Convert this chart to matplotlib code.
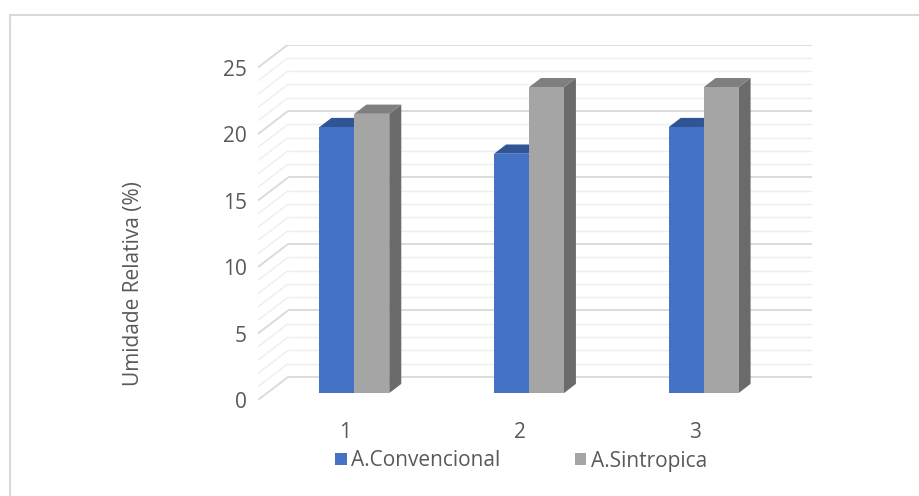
import matplotlib

matplotlib.use("Agg")
import matplotlib.pyplot as plt
from matplotlib.patches import Polygon, Patch
from matplotlib.lines import Line2D

categories = [1, 2, 3]
series_names = ["A.Convencional", "A.Sintropica"]
convencional = [20, 18, 20]
sintropica = [21, 23, 23]
y_ticks = [0, 5, 10, 15, 20, 25]

# face colours per series: front, top, side
face_colors = {
    "A.Convencional": ("#4472c4", "#2f5597", "#2b4f8c"),
    "A.Sintropica": ("#a5a5a5", "#7f7f7f", "#6b6b6b"),
}

# oblique "3D" projection: depth offset of the back wall in data units
WALL_DX = 0.172
WALL_DY = 1.73
BAR_D0 = 0.3   # front face depth (fraction of wall depth)
BAR_D1 = 0.7   # back face depth
BAR_W = 0.2
TEXT = "#595959"
FS = 15

plt.rcParams["font.family"] = ["Open Sans", "DejaVu Sans"]


def proj(x, v, d):
    return (x + d * WALL_DX, v + d * WALL_DY)


def draw_bar(ax, x0, x1, h, colors):
    front, top, side = colors
    f = [proj(x0, 0, BAR_D0), proj(x1, 0, BAR_D0), proj(x1, h, BAR_D0), proj(x0, h, BAR_D0)]
    t = [proj(x0, h, BAR_D0), proj(x1, h, BAR_D0), proj(x1, h, BAR_D1), proj(x0, h, BAR_D1)]
    s = [proj(x1, 0, BAR_D0), proj(x1, 0, BAR_D1), proj(x1, h, BAR_D1), proj(x1, h, BAR_D0)]
    for pts, c in ((s, side), (t, top), (f, front)):
        ax.add_patch(Polygon(pts, closed=True, facecolor=c, edgecolor="none", zorder=3))


fig = plt.figure(figsize=(9.2, 4.96), dpi=100)
ax = fig.add_axes([258 / 920, 96 / 496, 554 / 920, 355.5 / 496])
x_lo, x_hi = 0.5, 3.5
ax.set_xlim(x_lo, x_hi + WALL_DX)
ax.set_ylim(0, y_ticks[-1] + WALL_DY)

# walls: gridline every unit, darker at the major ticks
for v in range(0, y_ticks[-1] + 1):
    c = "#d9d9d9" if v % 5 == 0 else "#eeeeee"
    lw = 1.3 if v % 5 == 0 else 1.0
    a = proj(x_lo, v, 1)
    b = proj(x_hi, v, 1)
    ax.plot([a[0], b[0]], [a[1], b[1]], color=c, lw=lw, zorder=1, solid_capstyle="butt")
    ax.plot([x_lo, a[0]], [v, a[1]], color=c, lw=lw, zorder=1, solid_capstyle="butt")

for i, c in enumerate(categories):
    draw_bar(ax, c - BAR_W, c, convencional[i], face_colors["A.Convencional"])
    draw_bar(ax, c, c + BAR_W, sintropica[i], face_colors["A.Sintropica"])

for sp in ax.spines.values():
    sp.set_visible(False)
ax.set_yticks(y_ticks)
ax.set_yticklabels([str(t) for t in y_ticks])
ax.set_xticks(categories)
ax.set_xticklabels([str(c) for c in categories])
ax.tick_params(axis="y", length=0, pad=8, labelsize=FS, labelcolor=TEXT)
ax.tick_params(axis="x", length=0, pad=16, labelsize=FS, labelcolor=TEXT)

fig.text(134 / 920, 1 - 284 / 496, "Umidade Relativa (%)", rotation=90,
         ha="center", va="center", fontsize=FS, color=TEXT)

handles = [Patch(facecolor=face_colors[n][0], edgecolor="none") for n in series_names]
fig.legend(handles, series_names, loc="center", bbox_to_anchor=(521 / 920, 1 - 461 / 496),
           ncol=2, frameon=False, fontsize=FS, labelcolor=TEXT, handlelength=0.55,
           handleheight=0.55, handletextpad=0.2, columnspacing=3.6)

# chart border (only top and left visible in the crop)
fig.add_artist(Line2D([10 / 920, 1], [1 - 15 / 496, 1 - 15 / 496], color="#d9d9d9", lw=1.5))
fig.add_artist(Line2D([10 / 920, 10 / 920], [0, 1 - 15 / 496], color="#d9d9d9", lw=1.5))

fig.savefig("out.png", dpi=100)
